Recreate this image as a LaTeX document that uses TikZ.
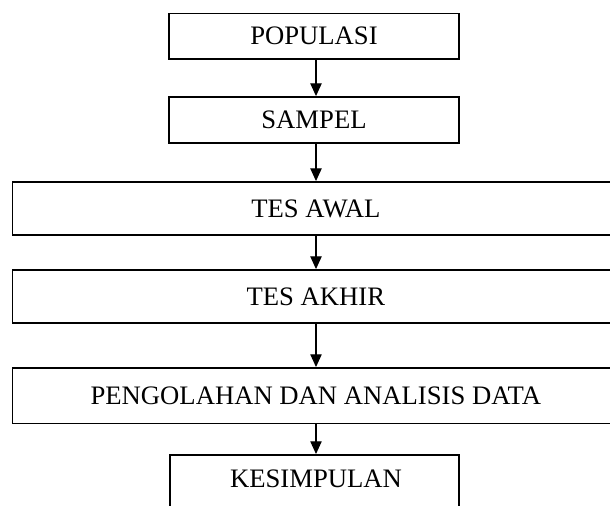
\documentclass[tikz,border=0pt]{standalone}
\usepackage{fontspec}
\setmainfont{Liberation Serif}
\usetikzlibrary{arrows.meta,calc}
\begin{document}
\begin{tikzpicture}[x=0.75pt,y=-0.75pt,
  box/.style={draw=black,line width=1.4pt,fill=white,inner sep=0pt,font=\fontsize{20}{24}\selectfont},
  lbl/.style={inner sep=0pt,font=\fontsize{20}{24}\selectfont},
  arr/.style={line width=0.8pt,-{Triangle[length=9.5pt,width=8.5pt]}}]
\useasboundingbox (0,0) rectangle (610,506);
\clip (0,0) rectangle (610,506);
\fill[white] (0,0) rectangle (610,506);
\coordinate (ax) at (316,0);
\node[box,minimum width=290*0.75pt,minimum height=45.5*0.75pt] (pop) at (314,36.2) {POPULASI};
\node[box,minimum width=290*0.75pt,minimum height=46*0.75pt] (sam) at (314,120) {SAMPEL};
\node[box,minimum width=600*0.75pt,minimum height=53*0.75pt] (awal) at (312.5,208.5) {\hspace*{5pt}TES AWAL};
\node[box,minimum width=600*0.75pt,minimum height=53*0.75pt] (akhir) at (312.5,296.5) {\hspace*{5pt}TES AKHIR};
\node[box,minimum width=600*0.75pt,minimum height=55.5*0.75pt] (olah) at (312.5,395.7) {\hspace*{5pt}PENGOLAHAN DAN ANALISIS DATA};
\node[box,minimum width=289*0.75pt,minimum height=60*0.75pt,anchor=north] (kes) at (314.5,454) {};
\node[lbl,anchor=base] (kest) at (316,487) {KESIMPULAN};
\draw[arr] (pop.south -| ax) -- (sam.north -| ax);
\draw[arr] (sam.south -| ax) -- (awal.north -| ax);
\draw[arr] (awal.south -| ax) -- (akhir.north -| ax);
\draw[arr] (akhir.south -| ax) -- (olah.north -| ax);
\draw[arr] (olah.south -| ax) -- (kes.north -| ax);
\end{tikzpicture}
\end{document}
